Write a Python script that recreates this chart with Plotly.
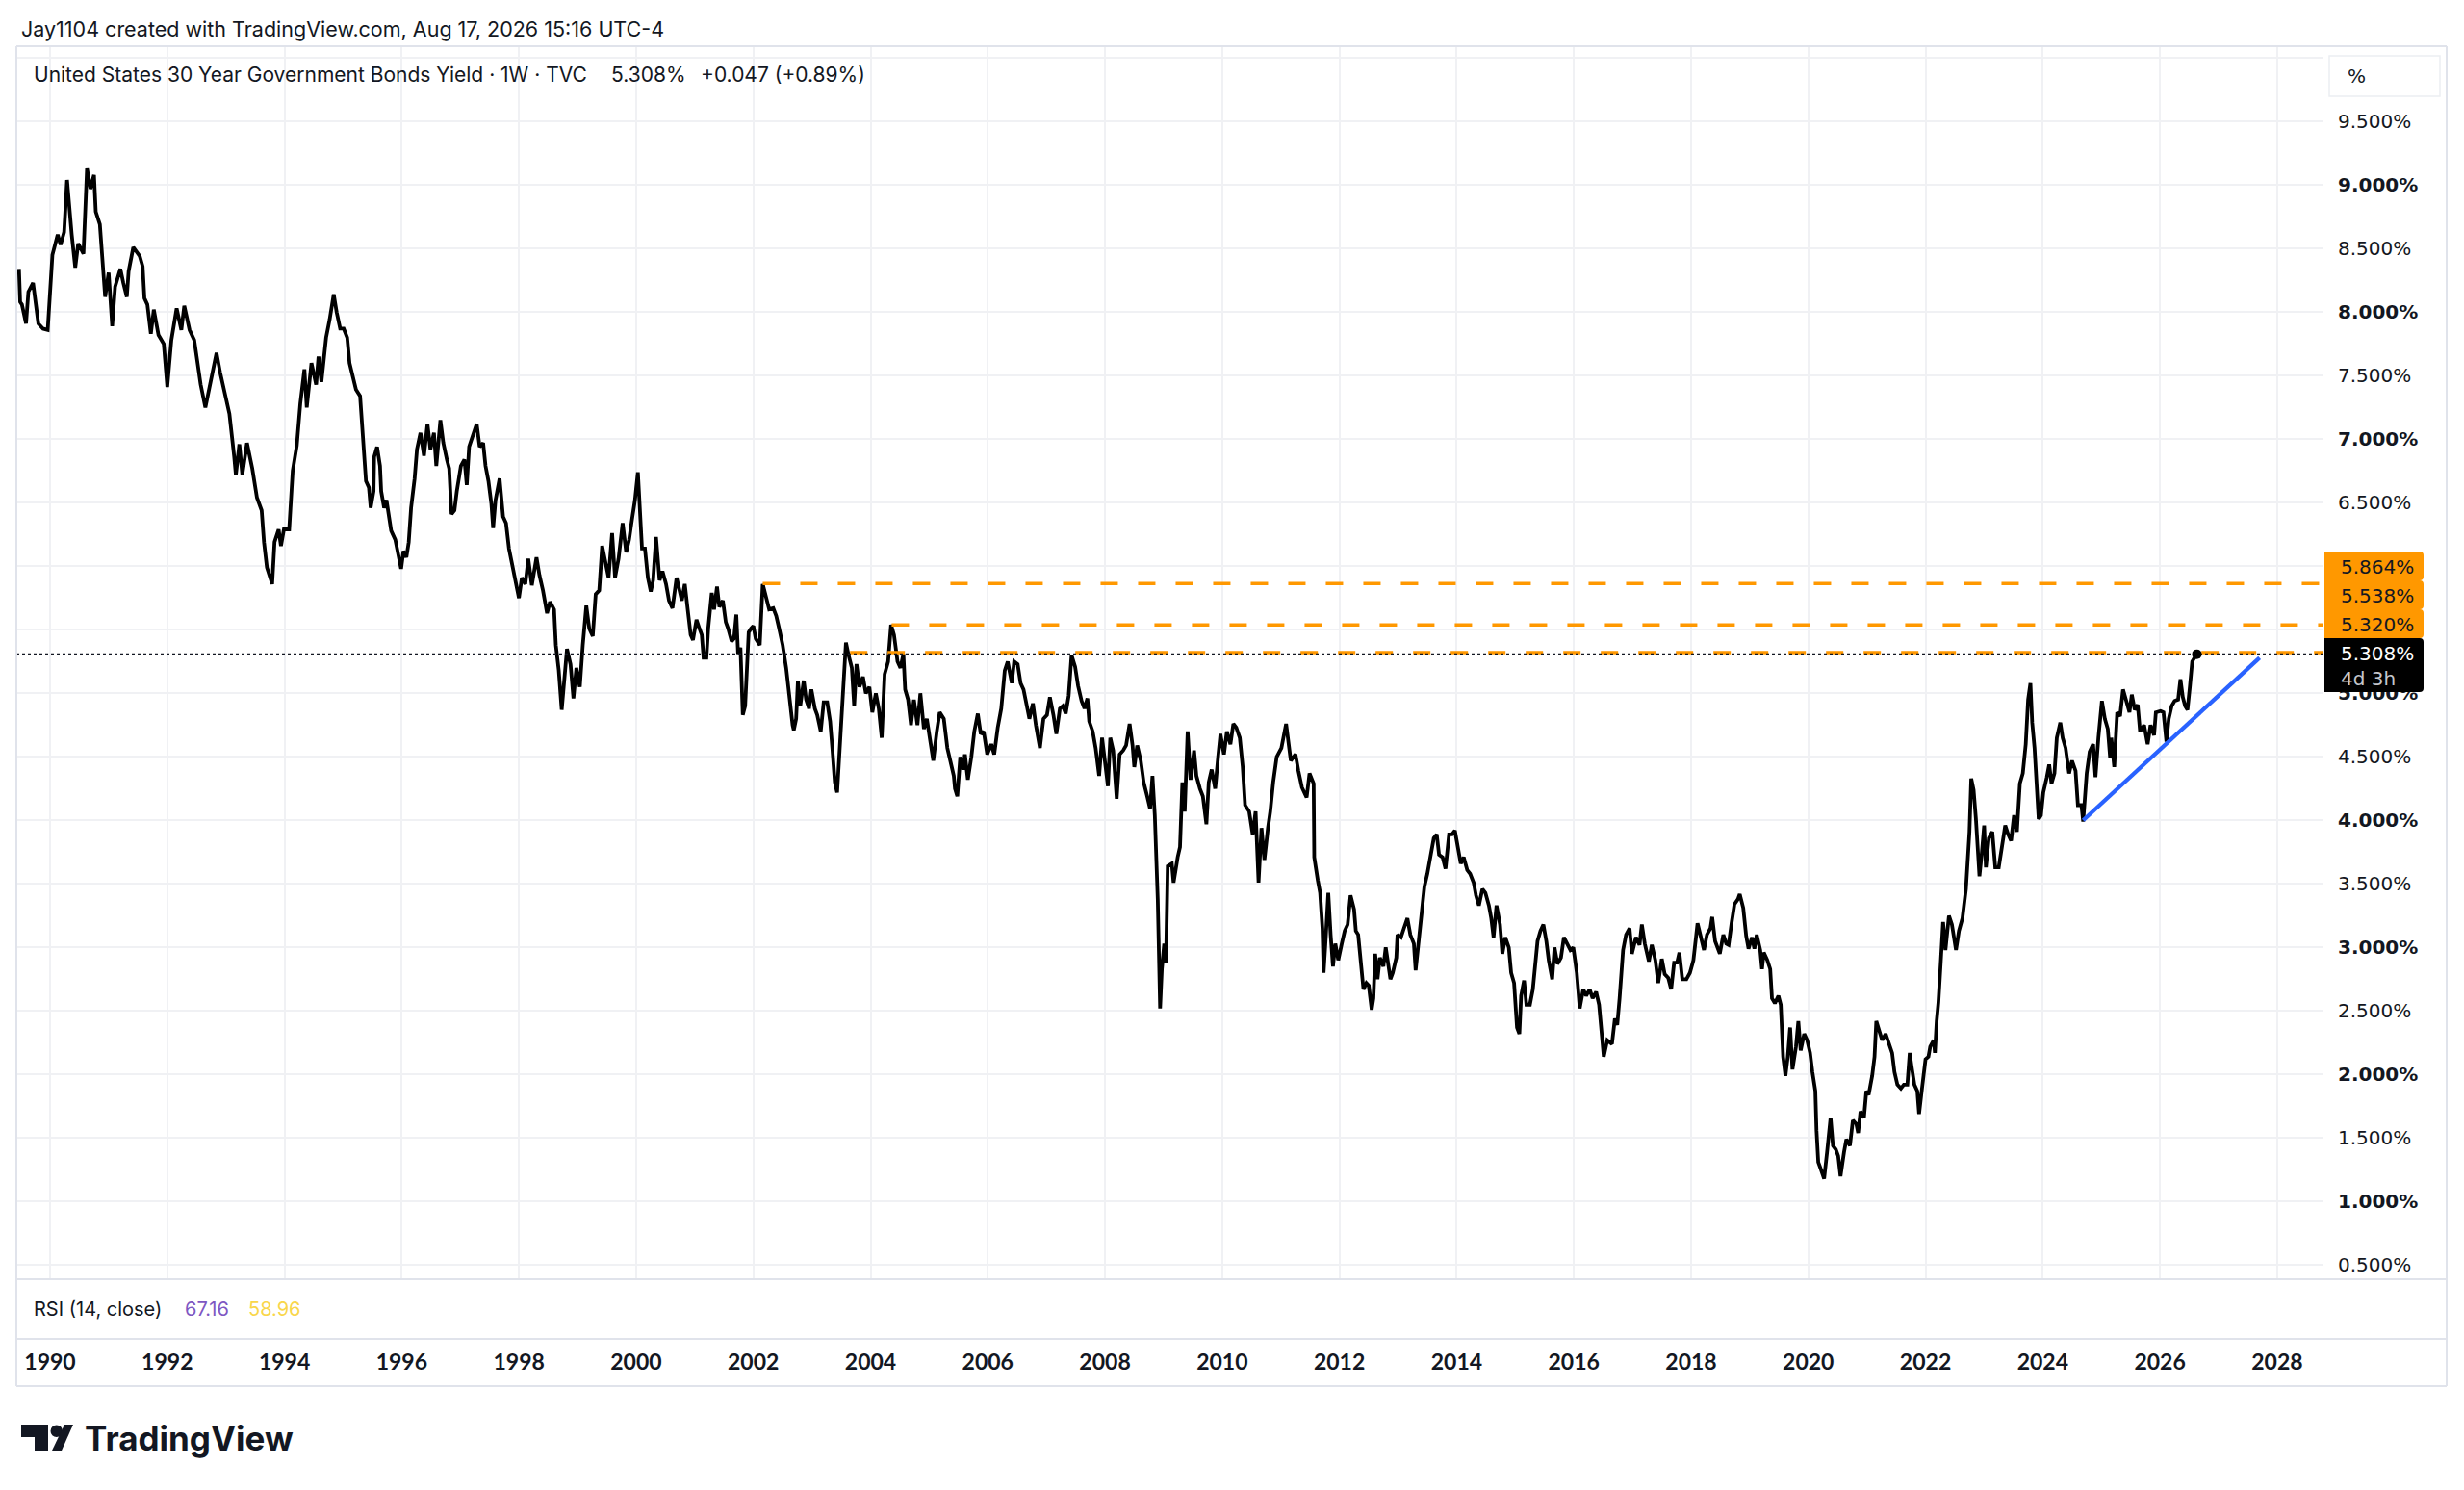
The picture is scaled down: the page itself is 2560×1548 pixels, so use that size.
import plotly.graph_objects as go

W, H = 2560, 1548

# ---------------- data ----------------
yr_a = [1989.47, 1989.49, 1989.52, 1989.59, 1989.63, 1989.71, 1989.80, 1989.88, 1989.96, 1990.04,
        1990.13, 1990.18, 1990.24, 1990.29, 1990.37, 1990.43, 1990.48, 1990.57, 1990.63, 1990.69,
        1990.75, 1990.78, 1990.85, 1990.89, 1990.94, 1991.00, 1991.06, 1991.11, 1991.20, 1991.25,
        1991.31, 1991.34, 1991.42, 1991.53, 1991.58, 1991.61, 1991.66, 1991.72, 1991.77, 1991.85,
        1991.94, 1992.00, 1992.07, 1992.16, 1992.24, 1992.29, 1992.38, 1992.46, 1992.51, 1992.57,
        1992.65, 1992.73, 1992.79, 1992.84, 1992.90, 1992.98, 1993.06, 1993.14, 1993.17, 1993.23,
        1993.28, 1993.36, 1993.45, 1993.53, 1993.61, 1993.65, 1993.70, 1993.79, 1993.83, 1993.90,
        1993.94, 1993.99, 1994.08, 1994.14, 1994.21, 1994.27, 1994.34, 1994.38, 1994.46, 1994.54]
yld_a = [8.34, 8.08, 8.06, 7.91, 8.16, 8.23, 7.91, 7.87, 7.86, 8.45,
         8.61, 8.53, 8.63, 9.04, 8.61, 8.35, 8.54, 8.46, 9.13, 8.97,
         9.08, 8.79, 8.69, 8.46, 8.12, 8.31, 7.89, 8.20, 8.34, 8.23,
         8.12, 8.32, 8.51, 8.44, 8.36, 8.11, 8.06, 7.83, 8.02, 7.82,
         7.75, 7.41, 7.78, 8.03, 7.86, 8.05, 7.86, 7.78, 7.63, 7.43,
         7.25, 7.43, 7.59, 7.68, 7.53, 7.38, 7.20, 6.87, 6.72, 6.96,
         6.72, 6.97, 6.77, 6.54, 6.44, 6.19, 5.99, 5.86, 6.19, 6.29,
         6.16, 6.29, 6.29, 6.75, 6.95, 7.28, 7.55, 7.25, 7.60, 7.43]

yr_b = [1994.58, 1994.63, 1994.71, 1994.77, 1994.84, 1994.89, 1994.95, 1995.01, 1995.07, 1995.11,
        1995.17, 1995.22, 1995.29, 1995.35, 1995.39, 1995.44, 1995.47, 1995.52, 1995.53, 1995.58,
        1995.63, 1995.65, 1995.70, 1995.74, 1995.78, 1995.82, 1995.89, 1995.95, 1995.99, 1996.03,
        1996.08, 1996.12, 1996.16, 1996.22, 1996.26, 1996.32, 1996.38, 1996.44, 1996.49, 1996.55,
        1996.59, 1996.66, 1996.71, 1996.77, 1996.81, 1996.85, 1996.90, 1996.94, 1997.01, 1997.07,
        1997.11, 1997.15, 1997.22, 1997.28, 1997.33, 1997.39, 1997.43, 1997.48, 1997.53, 1997.56,
        1997.60, 1997.67, 1997.73, 1997.78, 1997.83, 1997.89, 1997.94, 1998.00, 1998.05, 1998.11,
        1998.16, 1998.22, 1998.30, 1998.35, 1998.41, 1998.48, 1998.53, 1998.60, 1998.63, 1998.68,
        1998.73, 1998.78, 1998.82, 1998.88, 1998.93, 1998.98, 1999.04, 1999.09, 1999.15, 1999.20,
        1999.26, 1999.31, 1999.37, 1999.42, 1999.48, 1999.53, 1999.59, 1999.64, 1999.70, 1999.77]
yld_b = [7.65, 7.45, 7.80, 7.94, 8.14, 8.00, 7.87, 7.87, 7.80, 7.60,
         7.47, 7.39, 7.34, 6.97, 6.67, 6.62, 6.46, 6.59, 6.86, 6.94,
         6.79, 6.59, 6.46, 6.52, 6.39, 6.28, 6.21, 6.07, 5.98, 6.12,
         6.07, 6.19, 6.46, 6.69, 6.92, 7.05, 6.87, 7.12, 6.92, 7.05,
         6.79, 7.15, 6.97, 6.84, 6.77, 6.41, 6.44, 6.59, 6.79, 6.84,
         6.64, 6.94, 7.05, 7.12, 6.94, 6.97, 6.79, 6.67, 6.49, 6.30,
         6.52, 6.69, 6.39, 6.34, 6.14, 6.01, 5.91, 5.75, 5.91, 5.86,
         6.06, 5.85, 6.07, 5.93, 5.81, 5.63, 5.72, 5.66, 5.38, 5.18,
         4.87, 5.13, 5.35, 5.23, 4.96, 5.20, 5.05, 5.38, 5.69, 5.51,
         5.45, 5.78, 5.81, 6.16, 6.01, 5.91, 6.26, 5.91, 6.06, 6.34]

yr_c = [1999.83, 1999.88, 1999.93, 1999.98, 2000.03, 2000.07, 2000.10, 2000.15, 2000.20, 2000.25,
        2000.29, 2000.34, 2000.40, 2000.45, 2000.51, 2000.56, 2000.62, 2000.69, 2000.74, 2000.78,
        2000.83, 2000.89, 2000.93, 2000.97, 2001.03, 2001.08, 2001.12, 2001.15, 2001.20, 2001.23,
        2001.29, 2001.33, 2001.38, 2001.42, 2001.48, 2001.53, 2001.57, 2001.63, 2001.67, 2001.71,
        2001.74, 2001.78, 2001.82, 2001.86, 2001.89, 2001.92, 2001.96, 2002.00, 2002.04, 2002.11,
        2002.16, 2002.22, 2002.27, 2002.34, 2002.39, 2002.44, 2002.50, 2002.56, 2002.61, 2002.67,
        2002.69, 2002.73, 2002.76, 2002.80, 2002.86, 2002.90, 2002.95, 2002.99, 2003.05, 2003.09,
        2003.15, 2003.20, 2003.26, 2003.31, 2003.35, 2003.39, 2003.43, 2003.48, 2003.53, 2003.58,
        2003.62, 2003.68, 2003.72, 2003.76, 2003.81, 2003.87, 2003.92, 2003.98, 2004.03, 2004.09,
        2004.14, 2004.19, 2004.24, 2004.30, 2004.35, 2004.40, 2004.46, 2004.51, 2004.56, 2004.59,
        2004.64, 2004.69, 2004.74, 2004.80, 2004.85, 2004.91, 2004.96, 2005.02, 2005.07, 2005.13,
        2005.18]
yld_c = [6.11, 6.21, 6.37, 6.52, 6.74, 6.44, 6.14, 6.14, 5.91, 5.80,
         5.89, 6.23, 5.89, 5.96, 5.86, 5.73, 5.67, 5.91, 5.81, 5.73,
         5.86, 5.63, 5.46, 5.42, 5.58, 5.51, 5.46, 5.28, 5.28, 5.51,
         5.79, 5.66, 5.84, 5.68, 5.73, 5.56, 5.51, 5.41, 5.43, 5.62,
         5.31, 5.36, 4.83, 4.90, 5.28, 5.48, 5.51, 5.53, 5.43, 5.38,
         5.86, 5.76, 5.66, 5.67, 5.61, 5.51, 5.38, 5.20, 4.98, 4.75,
         4.71, 4.80, 5.10, 4.90, 5.10, 4.95, 4.88, 5.03, 4.88, 4.83,
         4.70, 4.93, 4.93, 4.78, 4.55, 4.30, 4.22, 4.60, 5.03, 5.40,
         5.31, 5.20, 4.90, 5.23, 5.05, 5.13, 5.00, 5.05, 4.85, 5.00,
         4.88, 4.65, 5.15, 5.25, 5.54, 5.46, 5.25, 5.20, 5.31, 5.03,
         4.95, 4.75, 4.95, 4.75, 5.00, 4.72, 4.80, 4.62, 4.47, 4.70,
         4.85]

yr_d = [2005.25, 2005.31, 2005.36, 2005.42, 2005.44, 2005.48, 2005.53, 2005.58, 2005.61, 2005.66,
        2005.72, 2005.77, 2005.83, 2005.88, 2005.93, 2005.99, 2006.06, 2006.11, 2006.17, 2006.23,
        2006.29, 2006.34, 2006.41, 2006.45, 2006.51, 2006.56, 2006.61, 2006.66, 2006.71, 2006.77,
        2006.82, 2006.89, 2006.95, 2007.01, 2007.06, 2007.12, 2007.17, 2007.23, 2007.28, 2007.33,
        2007.38, 2007.43, 2007.49, 2007.54, 2007.60, 2007.65, 2007.70, 2007.73, 2007.79, 2007.84,
        2007.90, 2007.95, 2008.01, 2008.05, 2008.09, 2008.14, 2008.20, 2008.25, 2008.31, 2008.36,
        2008.42, 2008.47, 2008.50, 2008.55, 2008.61, 2008.66, 2008.72, 2008.77, 2008.81, 2008.85,
        2008.90, 2008.94, 2008.97, 2009.01, 2009.04, 2009.07, 2009.14, 2009.17, 2009.24, 2009.28,
        2009.32, 2009.36, 2009.41, 2009.46, 2009.52, 2009.56, 2009.62, 2009.67, 2009.73, 2009.77,
        2009.82, 2009.88, 2009.93, 2009.97, 2010.03, 2010.08, 2010.14, 2010.19, 2010.24, 2010.30,
        2010.35, 2010.39, 2010.46, 2010.52, 2010.57, 2010.62, 2010.67, 2010.72, 2010.78, 2010.82,
        2010.87, 2010.93, 2011.01, 2011.09]
yld_d = [4.80, 4.57, 4.47, 4.35, 4.25, 4.19, 4.50, 4.40, 4.52, 4.32,
         4.50, 4.70, 4.84, 4.68, 4.70, 4.52, 4.60, 4.52, 4.73, 4.88,
         5.18, 5.25, 5.08, 5.25, 5.23, 5.08, 5.03, 4.90, 4.80, 4.92,
         4.75, 4.57, 4.80, 4.83, 4.97, 4.83, 4.68, 4.88, 4.90, 4.84,
         4.98, 5.30, 5.21, 5.06, 4.94, 4.88, 4.96, 4.78, 4.70, 4.57,
         4.35, 4.65, 4.40, 4.27, 4.65, 4.55, 4.17, 4.52, 4.55, 4.59,
         4.76, 4.59, 4.42, 4.59, 4.47, 4.30, 4.19, 4.09, 4.35, 4.04,
         3.38, 2.52, 2.83, 3.03, 2.88, 3.64, 3.66, 3.51, 3.71, 3.79,
         4.30, 4.07, 4.70, 4.32, 4.55, 4.35, 4.25, 4.19, 3.97, 4.30,
         4.40, 4.25, 4.50, 4.68, 4.52, 4.70, 4.60, 4.76, 4.73, 4.65,
         4.42, 4.12, 4.07, 3.89, 4.07, 3.51, 3.94, 3.69, 3.94, 4.07,
         4.30, 4.50, 4.57, 4.76]

yr_e = [2011.17, 2011.25, 2011.30, 2011.36, 2011.44, 2011.49, 2011.56, 2011.57, 2011.63, 2011.67,
        2011.71, 2011.73, 2011.77, 2011.81, 2011.85, 2011.89, 2011.93, 2011.98, 2012.04, 2012.09,
        2012.14, 2012.19, 2012.25, 2012.28, 2012.32, 2012.37, 2012.41, 2012.46, 2012.50, 2012.55,
        2012.58, 2012.61, 2012.65, 2012.69, 2012.75, 2012.79, 2012.83, 2012.87, 2012.91, 2012.97,
        2012.99, 2013.05, 2013.10, 2013.16, 2013.21, 2013.27, 2013.30, 2013.35, 2013.39, 2013.45,
        2013.50, 2013.55, 2013.61, 2013.66, 2013.70, 2013.76, 2013.81, 2013.87, 2013.92, 2013.97,
        2014.03, 2014.07, 2014.12, 2014.18, 2014.23, 2014.29, 2014.33, 2014.38, 2014.44, 2014.49,
        2014.55, 2014.59, 2014.63, 2014.68, 2014.74, 2014.78, 2014.83, 2014.89, 2014.93, 2014.98,
        2015.03, 2015.07, 2015.10, 2015.15, 2015.19, 2015.25, 2015.30, 2015.34, 2015.38, 2015.43,
        2015.48, 2015.53, 2015.57, 2015.63, 2015.67, 2015.72, 2015.78, 2015.83, 2015.88, 2015.94,
        2015.99, 2016.05, 2016.10, 2016.16, 2016.21, 2016.27, 2016.32, 2016.38, 2016.43, 2016.48,
        2016.51, 2016.57, 2016.65, 2016.70, 2016.74, 2016.78, 2016.84, 2016.89, 2016.95, 2016.99]
yld_e = [4.47, 4.52, 4.39, 4.26, 4.18, 4.37, 4.29, 3.71, 3.53, 3.43,
         3.15, 2.80, 3.10, 3.43, 3.10, 2.85, 3.03, 2.90, 3.03, 3.13,
         3.18, 3.41, 3.30, 3.13, 3.10, 2.87, 2.67, 2.72, 2.70, 2.51,
         2.60, 2.95, 2.75, 2.92, 2.85, 3.00, 2.87, 2.75, 2.80, 2.92,
         3.10, 3.08, 3.15, 3.23, 3.10, 3.03, 2.82, 3.03, 3.25, 3.48,
         3.58, 3.71, 3.86, 3.89, 3.73, 3.71, 3.62, 3.89, 3.89, 3.92,
         3.78, 3.66, 3.71, 3.61, 3.58, 3.51, 3.41, 3.33, 3.46, 3.43,
         3.33, 3.23, 3.08, 3.33, 3.18, 2.95, 3.08, 3.00, 2.80, 2.72,
         2.37, 2.32, 2.62, 2.74, 2.55, 2.55, 2.67, 2.90, 3.05, 3.13,
         3.18, 3.05, 2.90, 2.75, 3.00, 2.87, 2.92, 3.08, 3.03, 2.98,
         3.00, 2.80, 2.52, 2.67, 2.62, 2.67, 2.60, 2.65, 2.55, 2.32,
         2.14, 2.27, 2.24, 2.44, 2.39, 2.60, 2.98, 3.10, 3.15, 2.95]

yr_f = [2017.06, 2017.12, 2017.16, 2017.21, 2017.28, 2017.33, 2017.39, 2017.44, 2017.50, 2017.55,
        2017.61, 2017.66, 2017.71, 2017.76, 2017.80, 2017.85, 2017.92, 2017.98, 2018.04, 2018.11,
        2018.16, 2018.22, 2018.27, 2018.33, 2018.36, 2018.41, 2018.49, 2018.55, 2018.60, 2018.64,
        2018.69, 2018.74, 2018.80, 2018.83, 2018.89, 2018.94, 2018.98, 2019.04, 2019.08, 2019.12,
        2019.18, 2019.21, 2019.24, 2019.30, 2019.35, 2019.38, 2019.43, 2019.49, 2019.53, 2019.57,
        2019.61, 2019.65, 2019.69, 2019.73, 2019.79, 2019.83, 2019.87, 2019.93, 2019.98, 2020.03,
        2020.07, 2020.12, 2020.14, 2020.17, 2020.21, 2020.27, 2020.32, 2020.38, 2020.42, 2020.47,
        2020.51, 2020.55, 2020.61, 2020.65, 2020.71, 2020.76, 2020.82, 2020.85, 2020.89, 2020.95,
        2020.99, 2021.03, 2021.09, 2021.13, 2021.16, 2021.21, 2021.26, 2021.32, 2021.37, 2021.43,
        2021.47, 2021.52, 2021.58, 2021.63, 2021.69, 2021.73, 2021.76, 2021.81, 2021.86, 2021.89,
        2021.94, 2022.00, 2022.05, 2022.08, 2022.14, 2022.16, 2022.19, 2022.22, 2022.26, 2022.30,
        2022.34, 2022.40, 2022.45, 2022.52, 2022.57, 2022.63]
yld_f = [3.08, 3.02, 3.18, 3.03, 2.89, 3.02, 2.90, 2.72, 2.91, 2.79,
         2.76, 2.67, 2.88, 2.88, 2.96, 2.75, 2.75, 2.80, 2.90, 3.19,
         3.10, 2.98, 3.10, 3.15, 3.24, 3.05, 2.95, 3.10, 3.03, 3.02,
         3.19, 3.34, 3.38, 3.42, 3.31, 3.09, 2.99, 3.08, 2.99, 3.10,
         2.98, 2.83, 2.96, 2.90, 2.83, 2.60, 2.56, 2.62, 2.55, 2.14,
         1.99, 2.14, 2.37, 2.04, 2.22, 2.42, 2.19, 2.32, 2.27, 2.17,
         2.02, 1.87, 1.56, 1.31, 1.26, 1.18, 1.39, 1.66, 1.44, 1.41,
         1.36, 1.20, 1.39, 1.49, 1.44, 1.64, 1.61, 1.54, 1.71, 1.66,
         1.87, 1.84, 1.99, 2.14, 2.42, 2.35, 2.27, 2.32, 2.25, 2.17,
         2.02, 1.92, 1.89, 1.92, 1.92, 2.17, 2.07, 1.92, 1.87, 1.69,
         1.89, 2.12, 2.14, 2.22, 2.27, 2.17, 2.42, 2.57, 2.88, 3.20,
         2.98, 3.25, 3.18, 2.98, 3.13, 3.23]

yr_g = [2022.69, 2022.73, 2022.75, 2022.78, 2022.82, 2022.86, 2022.92, 2022.96, 2023.00, 2023.03,
        2023.08, 2023.14, 2023.19, 2023.25, 2023.30, 2023.36, 2023.41, 2023.46, 2023.51, 2023.56,
        2023.61, 2023.66, 2023.71, 2023.75, 2023.79, 2023.82, 2023.86, 2023.89, 2023.93, 2023.97,
        2024.01, 2024.07, 2024.11, 2024.15, 2024.20, 2024.24, 2024.30, 2024.34, 2024.39, 2024.45,
        2024.50, 2024.56, 2024.60, 2024.66, 2024.69, 2024.75, 2024.80, 2024.86, 2024.90, 2024.95,
        2025.01, 2025.06, 2025.11, 2025.15, 2025.17, 2025.22, 2025.27, 2025.32, 2025.37, 2025.42,
        2025.48, 2025.52, 2025.57, 2025.62, 2025.66, 2025.73, 2025.79, 2025.84, 2025.90, 2025.93,
        2026.01, 2026.06, 2026.11, 2026.15, 2026.20, 2026.25, 2026.31, 2026.35, 2026.39, 2026.43,
        2026.47, 2026.51, 2026.55, 2026.59, 2026.63]
yld_g = [3.46, 3.79, 3.91, 4.33, 4.24, 4.01, 3.56, 3.74, 3.96, 3.63,
         3.86, 3.91, 3.63, 3.63, 3.79, 3.96, 3.89, 3.84, 4.04, 3.91,
         4.29, 4.37, 4.60, 4.95, 5.08, 4.77, 4.57, 4.37, 4.01, 4.04,
         4.22, 4.34, 4.44, 4.29, 4.37, 4.65, 4.77, 4.65, 4.57, 4.37,
         4.47, 4.39, 4.12, 4.12, 3.99, 4.37, 4.54, 4.60, 4.34, 4.65,
         4.94, 4.80, 4.72, 4.49, 4.65, 4.42, 4.85, 4.82, 5.03, 4.95,
         4.85, 4.99, 4.87, 4.91, 4.70, 4.75, 4.60, 4.75, 4.67, 4.85,
         4.86, 4.85, 4.62, 4.80, 4.90, 4.94, 4.95, 5.11, 4.97, 4.90,
         4.87, 5.05, 5.25, 5.28, 5.308]

weeks = yr_a + yr_b + yr_c + yr_d + yr_e + yr_f + yr_g
yields = yld_a + yld_b + yld_c + yld_d + yld_e + yld_f + yld_g

last_price = 5.308
levels = [5.864, 5.538, 5.320]
level_starts = [2002.16, 2004.36, 2003.65]
level_text = ["5.864%", "5.538%", "5.320%"]
trend_t = [2024.69, 2027.70]
trend_y = [4.00, 5.28]

year_ticks = list(range(1990, 2030, 2))
year_labels = [str(y) for y in year_ticks]
price_ticks = [0.5, 1.0, 1.5, 2.0, 2.5, 3.0, 3.5, 4.0, 4.5, 5.0,
               5.5, 6.0, 6.5, 7.0, 7.5, 8.0, 8.5, 9.0, 9.5, 10.0]
price_labels = ["0.500%", "1.000%", "1.500%", "2.000%", "2.500%", "3.000%", "3.500%", "4.000%",
                "4.500%", "5.000%", "5.500%", "6.000%", "6.500%", "7.000%", "7.500%", "8.000%",
                "8.500%", "9.000%", "9.500%", ""]

header_text = "Jay1104 created with TradingView.com, Aug 17, 2026 15:16 UTC-4"
legend_title = "United States 30 Year Government Bonds Yield · 1W · TVC"
legend_price = "5.308%"
legend_change = "+0.047 (+0.89%)"
rsi_title = "RSI (14, close)"
rsi_values = ["67.16", "58.96"]
countdown = "4d 3h"

# ---------------- layout geometry (pixels) ----------------
X_START, X_END = 1989.425, 2028.79
Y_MIN, Y_MAX = 0.389, 10.093
LEFT, PLOT_R, RIGHT = 17, 2414, 2542
TOP, MAIN_B, RSI_B, BOTTOM = 48, 1329, 1391, 1440

def fx(p):
    return p / W

def fy(p):
    return 1 - p / H

INK = "#131722"
GRID = "#f0f1f4"
FRAME = "#e0e3eb"
ORANGE = "#FF9800"
UI = "Inter"
AX = "DejaVu Sans"

fig = go.Figure()

fig.add_trace(go.Scatter(x=weeks, y=yields, mode="lines",
                         line=dict(color="#000000", width=3.8), hoverinfo="skip"))
for lv, st in zip(levels, level_starts):
    fig.add_trace(go.Scatter(x=[st, X_END], y=[lv, lv], mode="lines",
                             line=dict(color=ORANGE, width=3.5, dash="18px,21px"), hoverinfo="skip"))
fig.add_trace(go.Scatter(x=[X_START, X_END], y=[last_price, last_price], mode="lines",
                         line=dict(color=INK, width=1.6, dash="dot"), hoverinfo="skip"))
fig.add_trace(go.Scatter(x=trend_t, y=trend_y, mode="lines",
                         line=dict(color="#2962FF", width=4.2), hoverinfo="skip"))
fig.add_trace(go.Scatter(x=[weeks[-1]], y=[yields[-1]], mode="markers",
                         marker=dict(color="#000000", size=10), hoverinfo="skip"))

price_tt = []
for v, t in zip(price_ticks, price_labels):
    price_tt.append("<b>%s</b>" % t if (t and abs(v - round(v)) < 1e-9) else t)

fig.update_layout(
    width=W, height=H, margin=dict(l=0, r=0, t=0, b=0),
    paper_bgcolor="white", plot_bgcolor="white", showlegend=False,
    xaxis=dict(domain=[fx(LEFT), fx(PLOT_R)], range=[X_START, X_END],
               tickvals=year_ticks, ticktext=["<b>%s</b>" % s for s in year_labels],
               showgrid=True, gridcolor=GRID, gridwidth=1.5, zeroline=False, showline=False,
               ticks="", tickfont=dict(family="Lato", size=23, color=INK),
               ticklabelstandoff=70, fixedrange=True),
    yaxis=dict(domain=[fy(MAIN_B), fy(TOP)], range=[Y_MIN, Y_MAX], side="right",
               tickvals=price_ticks, ticktext=price_tt,
               showgrid=True, gridcolor=GRID, gridwidth=1.5, zeroline=False, showline=False,
               ticks="", tickfont=dict(family=AX, size=20, color=INK),
               ticklabelstandoff=14, fixedrange=True),
)

shapes = []
def hline(y, x0=LEFT, x1=RIGHT):
    shapes.append(dict(type="line", xref="paper", yref="paper", x0=fx(x0), x1=fx(x1),
                       y0=fy(y), y1=fy(y), line=dict(color=FRAME, width=2)))
def vline(x, y0=TOP, y1=BOTTOM):
    shapes.append(dict(type="line", xref="paper", yref="paper", x0=fx(x), x1=fx(x),
                       y0=fy(y0), y1=fy(y1), line=dict(color=FRAME, width=2)))
for yy in (TOP, MAIN_B, RSI_B, BOTTOM):
    hline(yy)
vline(LEFT)
vline(RIGHT)

def box_path(x0, y0, x1, y1, r=4):
    # rectangle with rounded right corners, in paper coords
    return ("M %f,%f L %f,%f Q %f,%f %f,%f L %f,%f Q %f,%f %f,%f L %f,%f Z" % (
        fx(x0), fy(y0), fx(x1 - r), fy(y0), fx(x1), fy(y0), fx(x1), fy(y0 + r),
        fx(x1), fy(y1 - r), fx(x1), fy(y1), fx(x1 - r), fy(y1), fx(x0), fy(y1)))

box_tops = [573, 603, 633]
for bt in box_tops:
    shapes.append(dict(type="path", xref="paper", yref="paper", path=box_path(2415, bt, 2518, bt + 30),
                       fillcolor=ORANGE, line=dict(width=0), layer="above"))
shapes.append(dict(type="path", xref="paper", yref="paper", path=box_path(2415, 663, 2518, 719),
                   fillcolor="#000000", line=dict(width=0), layer="above"))
# "%" button
shapes.append(dict(type="rect", xref="paper", yref="paper", x0=fx(2420), x1=fx(2535),
                   y0=fy(58), y1=fy(100), fillcolor="white", line=dict(color="#eceef2", width=1.5),
                   layer="above"))
# TradingView logo mark
shapes.append(dict(type="path", xref="paper", yref="paper", fillcolor=INK, line=dict(width=0),
                   path="M %f,%f L %f,%f L %f,%f L %f,%f L %f,%f L %f,%f Z" % (
                       fx(22), fy(1480), fx(50), fy(1480), fx(50), fy(1507), fx(36), fy(1507),
                       fx(36), fy(1493), fx(22), fy(1493))))
shapes.append(dict(type="circle", xref="paper", yref="paper", fillcolor=INK, line=dict(width=0),
                   x0=fx(52.5), x1=fx(65), y0=fy(1480.5), y1=fy(1493)))
shapes.append(dict(type="path", xref="paper", yref="paper", fillcolor=INK, line=dict(width=0),
                   path="M %f,%f L %f,%f L %f,%f L %f,%f Z" % (
                       fx(67), fy(1480), fx(76), fy(1480), fx(64), fy(1507), fx(54), fy(1507))))
fig.update_layout(shapes=shapes)

ann = []
def text(x, y, s, size=21, color=INK, family=UI, anchor="left"):
    ann.append(dict(xref="paper", yref="paper", x=fx(x), y=fy(y), text=s, showarrow=False,
                    xanchor=anchor, yanchor="middle", font=dict(family=family, size=size, color=color)))

text(20, 30, header_text, size=21.5)
text(33, 77, legend_title, size=21)
text(633, 77, legend_price, size=21)
text(726, 77, legend_change, size=21)
text(33, 1360, rsi_title, size=20)
text(190, 1360, rsi_values[0], size=20, color="#7E57C2")
text(256, 1360, rsi_values[1], size=20, color="#F9D64A")
text(2437, 79, "%", size=20, family=AX)
for bt, s in zip(box_tops, level_text):
    text(2430, bt + 16, s, size=20, family=AX)
text(2430, 679, legend_price, size=20, color="white", family=AX)
text(2430, 705, countdown, size=20, color="#c4c6cc", family=AX)
text(86, 1494, "<b>TradingView</b>", size=35, family=UI)
fig.update_layout(annotations=ann)

fig.write_html("out.html", config={"displayModeBar": False},
               post_script="document.body.style.margin='0';document.body.style.overflow='hidden';")
